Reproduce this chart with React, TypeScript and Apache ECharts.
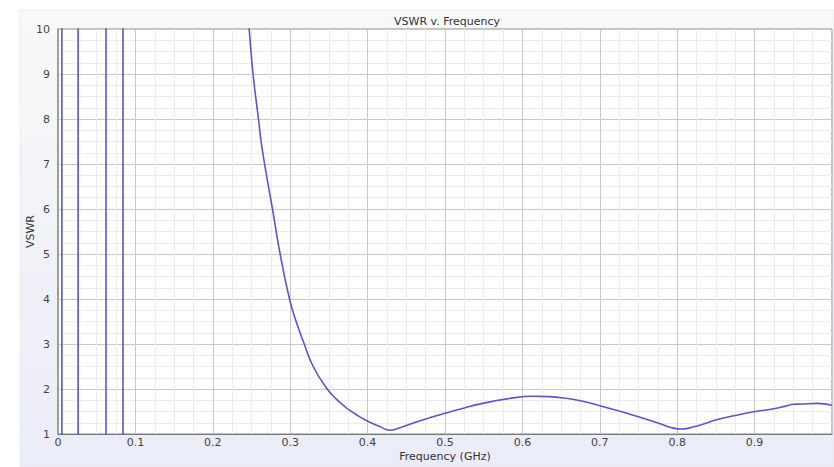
import React, { useEffect, useRef } from "react";
import * as echarts from "echarts";

// Low-frequency resonance spikes (VSWR runs off the top and bottom of the scale)
const spikeFreqs: number[] = [0.0, 0.005, 0.005, 0.026, 0.026, 0.062, 0.062, 0.084, 0.084, 0.2];
const spikeVswr: number[] = [100, 100, 0.5, 0.5, 100, 100, 0.5, 0.5, 100, 100];

// Main VSWR curve, Frequency (GHz) vs VSWR
const freqs: number[] = [
  0.2, 0.235, 0.247, 0.252, 0.259, 0.2638, 0.2771, 0.287, 0.2991, 0.3077,
  0.3181, 0.3297, 0.3478, 0.36, 0.3711, 0.38, 0.39, 0.403, 0.415, 0.429,
  0.437, 0.45, 0.465, 0.48, 0.5, 0.525, 0.546, 0.58, 0.614, 0.635,
  0.653, 0.675, 0.7, 0.725, 0.752, 0.776, 0.795, 0.805, 0.815, 0.83,
  0.852, 0.875, 0.901, 0.925, 0.94, 0.95, 0.96, 0.981, 1.0,
];
const vswr: number[] = [
  100, 12.5, 10, 9, 8, 7.33, 6, 5, 4, 3.5,
  3, 2.5, 2.0, 1.77, 1.6, 1.49, 1.38, 1.26, 1.17, 1.085,
  1.11, 1.19, 1.28, 1.36, 1.46, 1.58, 1.67, 1.78, 1.84, 1.83,
  1.8, 1.74, 1.63, 1.51, 1.37, 1.24, 1.13, 1.11, 1.13, 1.2,
  1.32, 1.41, 1.5, 1.56, 1.62, 1.66, 1.665, 1.68, 1.64,
];
const xTicks: number[] = [0, 0.1, 0.2, 0.3, 0.4, 0.5, 0.6, 0.7, 0.8, 0.9, 1.0];
const yTicks: number[] = [1, 2, 3, 4, 5, 6, 7, 8, 9, 10];

export default function App() {
  const ref = useRef<HTMLDivElement>(null);
  useEffect(() => {
    if (!ref.current) return;
    const chart = echarts.init(ref.current, undefined, { renderer: "svg" });
    const font = "DejaVu Sans";
    const lineColor = "#5a55d0";
    chart.setOption({
      animation: false,
      backgroundColor: "#ffffff",
      title: {
        text: "VSWR v. Frequency",
        left: 442,
        top: 11,
        textAlign: "center",
        textStyle: { fontFamily: font, fontSize: 11, fontWeight: "normal", color: "#333" },
      },
      graphic: [
        {
          type: "rect",
          z: -10,
          silent: true,
          shape: { x: 20, y: 10, width: 814, height: 457 },
          style: {
            fill: new echarts.graphic.LinearGradient(0, 0, 0, 1, [
              { offset: 0, color: "#f9f9f9" },
              { offset: 1, color: "#eaecf8" },
            ]),
            stroke: "#ececec",
            lineWidth: 1,
          },
        },
      ],
      grid: {
        left: 58,
        width: 774,
        top: 29,
        height: 409,
        show: true,
        backgroundColor: "#ffffff",
        borderColor: "#888",
        borderWidth: 1,
      },
      xAxis: {
        type: "value",
        min: xTicks[0],
        max: xTicks[xTicks.length - 1],
        interval: 0.1,
        name: "Frequency (GHz)",
        nameLocation: "middle",
        nameGap: 16,
        nameMoveOverlap: false,
        nameTextStyle: { fontFamily: font, fontSize: 11, color: "#333", lineHeight: 12 },
        axisLine: { show: true, lineStyle: { color: "#777", width: 1 } },
        axisTick: { show: false },
        axisLabel: {
          showMaxLabel: false,
          fontFamily: font,
          fontSize: 11,
          lineHeight: 12,
          color: "#444",
          margin: 2,
          formatter: (v: number) => (Math.round(v * 10) / 10).toString(),
        },
        splitLine: { show: true, lineStyle: { color: "#c8c8c8", width: 1 } },
        minorTick: { show: false, splitNumber: 4 },
        minorSplitLine: { show: true, lineStyle: { color: "#ececec", width: 1 } },
      },
      yAxis: {
        type: "value",
        min: yTicks[0],
        max: yTicks[yTicks.length - 1],
        interval: 1,
        name: "VSWR",
        nameLocation: "middle",
        nameGap: 22,
        nameMoveOverlap: false,
        nameRotate: 90,
        nameTextStyle: { fontFamily: font, fontSize: 11, color: "#333" },
        axisLine: { show: true, lineStyle: { color: "#8d9880", width: 1.5 } },
        axisTick: { show: false },
        axisLabel: { fontFamily: font, fontSize: 11, color: "#444", margin: 8 },
        splitLine: { show: true, lineStyle: { color: "#c8c8c8", width: 1 } },
        minorTick: { show: false, splitNumber: 4 },
        minorSplitLine: { show: true, lineStyle: { color: "#ececec", width: 1 } },
      },
      series: [
        {
          type: "line",
          data: spikeFreqs.map((f, i) => [f, spikeVswr[i]]),
          showSymbol: false,
          smooth: false,
          clip: true,
          lineStyle: { color: lineColor, width: 1.6 },
          z: 5,
        },
        {
          type: "line",
          data: freqs.map((f, i) => [f, vswr[i]]),
          showSymbol: false,
          smooth: 0.5,
          clip: true,
          lineStyle: { color: lineColor, width: 1.6 },
          z: 5,
        },
      ],
    });
    return () => chart.dispose();
  }, []);
  return (
    <div
      ref={ref}
      style={{ position: "fixed", left: 0, top: 0, width: 834, height: 467 }}
    />
  );
}
